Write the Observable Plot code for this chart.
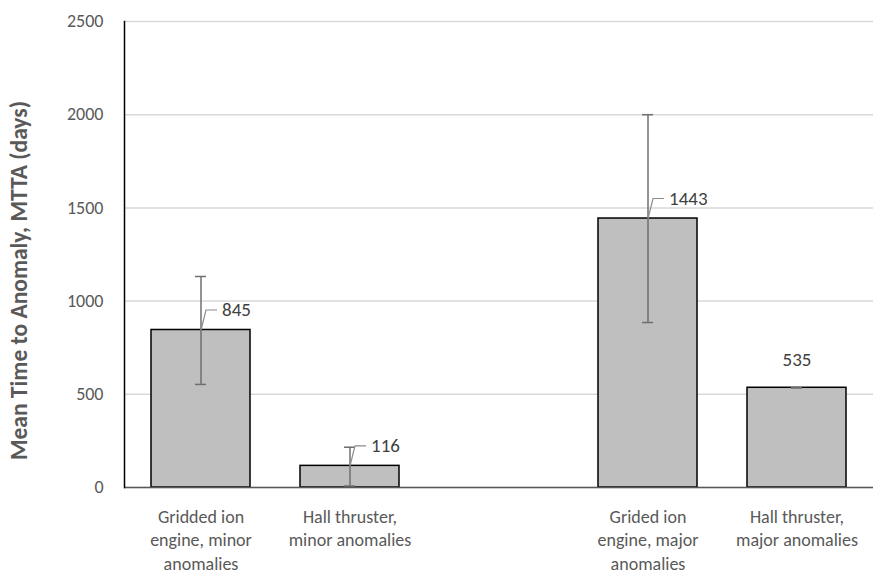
<!DOCTYPE html>
<html>
<head>
<meta charset="utf-8">
<script src="https://cdn.jsdelivr.net/npm/d3@7"></script>
<script src="https://cdn.jsdelivr.net/npm/@observablehq/plot@0.6"></script>
<style>
  html, body { margin: 0; padding: 0; background: #fff; }
  #chart svg { display: block; }
</style>
</head>
<body>
<div id="chart"></div>
<script>
const categories = [
  "Gridded ion\nengine, minor\nanomalies",
  "Hall thruster,\nminor anomalies",
  "Grided ion\nengine, major\nanomalies",
  "Hall thruster,\nmajor anomalies"
];
const xDomain = [categories[0], categories[1], "", categories[2], categories[3]];
const values = [845, 116, 1443, 535];
const errLow = [553, 8, 885, 535];
const errHigh = [1132, 216, 2000, 535];
const hasLeader = [true, true, true, false];
const yTicks = [0, 500, 1000, 1500, 2000, 2500];
const yTitle = "Mean Time to Anomaly, MTTA (days)";

const data = categories.map((c, i) => ({
  cat: c, value: values[i], low: errLow[i], high: errHigh[i], leader: hasLeader[i]
}));

const leaderSymbol = {
  draw(context) {
    context.moveTo(0, 0);
    context.lineTo(5, -20);
    context.lineTo(16, -20);
  }
};

const font = "Carlito, Calibri, Lato, 'Noto Sans', sans-serif";

const chart = Plot.plot({
  width: 873,
  height: 575,
  marginLeft: 124,
  marginRight: 0,
  marginTop: 21,
  marginBottom: 88,
  style: { fontFamily: font, background: "#fff" },
  x: { domain: xDomain, paddingInner: 1/3, paddingOuter: 1/6, label: null },
  y: { domain: [0, 2500], label: null },
  marks: [
    Plot.gridY(yTicks, { stroke: "#d9d9d9", strokeOpacity: 1, strokeWidth: 1.5 }),
    Plot.axisY(yTicks, { tickSize: 0, tickPadding: 21, fontSize: 18, fill: "#595959", tickFormat: d => String(d), label: null }),
    Plot.axisX({ tickSize: 0, tickPadding: 18, fontSize: 18, lineHeight: 1.33, fill: "#595959", label: null }),
    Plot.text([yTitle], { frameAnchor: "left", textAnchor: "middle", rotate: -90, dx: -105, dy: 26, fontSize: 23.5, fontWeight: "bold", fill: "#595959" }),
    Plot.barY(data, { x: "cat", y: "value", fill: "#bfbfbf", stroke: "#000", strokeWidth: 1.5 }),
    Plot.ruleY([0], { stroke: "#595959", strokeWidth: 1.5 }),
    Plot.frame({ anchor: "left", stroke: "#000", strokeWidth: 1.5 }),
    Plot.ruleX(data, { x: "cat", y1: "low", y2: "high", stroke: "#6f6f6f", strokeWidth: 1.5 }),
    Plot.tickY(data, { x: "cat", y: "low", stroke: "#6f6f6f", strokeWidth: 1.5, insetLeft: 44, insetRight: 44 }),
    Plot.tickY(data, { x: "cat", y: "high", stroke: "#6f6f6f", strokeWidth: 1.5, insetLeft: 44, insetRight: 44 }),
    Plot.dot(data.filter(d => d.leader), { x: "cat", y: "value", symbol: leaderSymbol, fill: "none", stroke: "#8c8c8c", strokeWidth: 1.2 }),
    Plot.text(data.filter(d => d.leader), { x: "cat", y: "value", text: d => String(d.value), textAnchor: "start", dx: 21, dy: -20, fontSize: 19, fill: "#404040" }),
    Plot.text(data.filter(d => !d.leader), { x: "cat", y: "value", text: d => String(d.value), textAnchor: "middle", dy: -28, fontSize: 19, fill: "#404040" })
  ]
});
document.getElementById("chart").appendChild(chart);
</script>
</body>
</html>
